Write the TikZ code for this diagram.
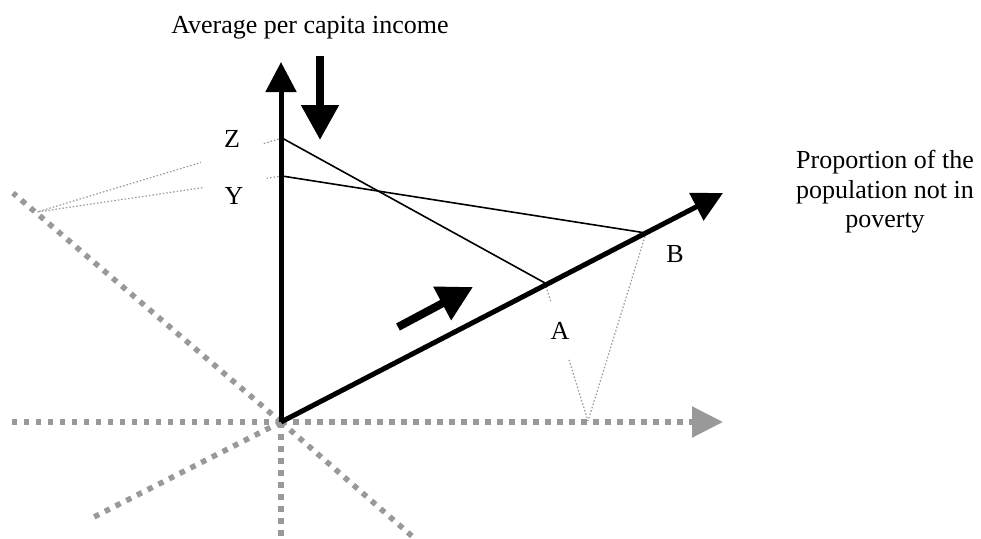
\documentclass[tikz,border=0pt]{standalone}
\usepackage{fontspec}
\setmainfont{Liberation Serif}
\definecolor{axisgray}{HTML}{999999}
\usetikzlibrary{arrows.meta}

\begin{document}
\begin{tikzpicture}[x=1pt,y=-1pt,
    bigfont/.style={font=\fontsize{26}{29.5}\selectfont},
    grayaxis/.style={axisgray,line width=5.5pt,dash pattern=on 5.5pt off 6.5pt},
    guide/.style={axisgray,line width=1.2pt,dash pattern=on 1.5pt off 2pt},
    link/.style={line width=1.6pt},
    mainaxis/.style={line width=5pt,-{Triangle[length=30pt,width=30pt]}},
    shiftarrow/.style={line width=8pt,-{Triangle[length=35pt,width=36pt]}},
    letter/.style={bigfont,fill=white,inner sep=0,minimum width=62pt,minimum height=56pt}]
  \path[use as bounding box] (0,0) rectangle (981,538);
  \coordinate (O) at (281,422);
  \coordinate (vtop) at (281,62);
  \coordinate (htip) at (723,422);
  \coordinate (btip) at (723,193);
  \coordinate (Z) at (282,138);
  \coordinate (Y) at (282,176);
  \coordinate (A) at (545,283);
  \coordinate (B) at (646,233);
  \coordinate (proj) at (37,212);
  \coordinate (foot) at (588,421);
  % grey axes through the origin
  \foreach \e in {(13,193),(413,537),(92,518),(281,538),(10,422)}
    \draw[grayaxis] (O) -- \e;
  \draw[grayaxis,-{Triangle[length=31pt,width=30pt]}] (O) -- (htip);
  % projections
  \draw[guide] (Z) -- (proj);
  \draw[guide] (Y) -- (proj);
  \draw[guide] (A) -- (foot);
  \draw[guide] (B) -- (foot);
  \node[letter] (zlabel) at (232,139) {Z};
  \node[letter] (ylabel) at (234,196) {Y};
  \node[letter] (alabel) at (560,331) {A};
  \node[bigfont] (blabel) at (675,254) {B};
  % axes
  \draw[mainaxis] (O) -- (vtop);
  \draw[mainaxis] (O) -- (btip);
  \draw[link] (Z) -- (A);
  \draw[link] (Y) -- (B);
  % movements
  \coordinate (downstart) at (320,56);
  \coordinate (downend) at (320,140);
  \draw[shiftarrow] (downstart) -- (downend);
  \coordinate (upstart) at (398,327);
  \coordinate (upend) at (473,287);
  \draw[shiftarrow] (upstart) -- (upend);
  \node[bigfont,anchor=base] (income) at (310,33) {Average per capita income};
  \node[bigfont,align=center] (poverty) at (885,192)
    {Proportion of the\\population not in\\poverty};
\end{tikzpicture}
\end{document}
